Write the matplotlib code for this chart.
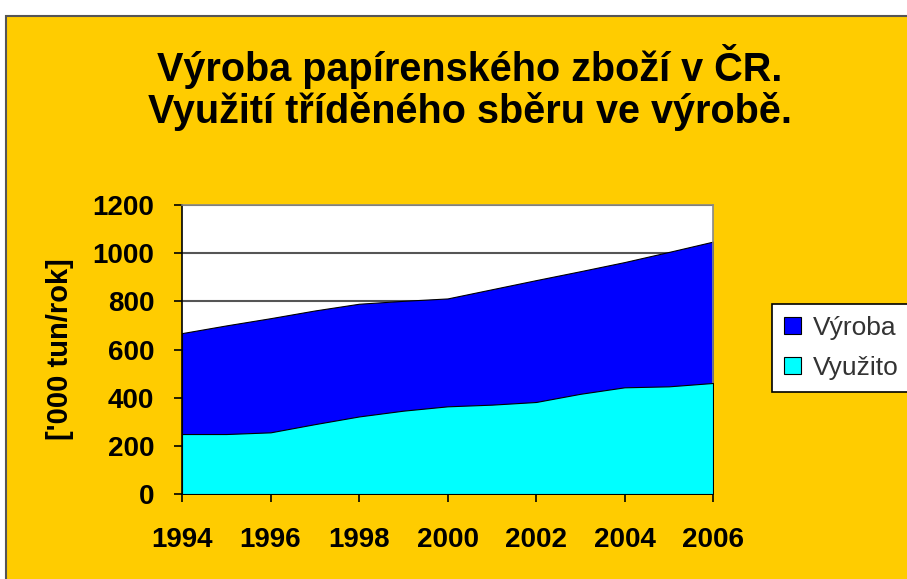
import matplotlib.pyplot as plt
from matplotlib.patches import Rectangle

# data ('000 t per year)
years = [1994, 1995, 1996, 1997, 1998, 1999, 2000, 2001, 2002, 2003, 2004, 2005, 2006]
vyroba = [668, 700, 730, 762, 790, 802, 812, 850, 888, 925, 963, 1005, 1048]
vyuzito = [249, 249, 256, 290, 322, 346, 364, 371, 382, 416, 443, 447, 461]
yticks = [0, 200, 400, 600, 800, 1000, 1200]
xticks = [1994, 1996, 1998, 2000, 2002, 2004, 2006]

yellow = "#FFCC00"
plt.rcParams['font.family'] = ['Liberation Sans', 'DejaVu Sans']

fig = plt.figure(figsize=(9.07, 5.79), dpi=100, facecolor="white")
# yellow chart-area background with a thin grey frame
fig.patches.append(Rectangle((6 / 907, -0.01), 1.0, 1 - 16 / 579 + 0.01,
                             transform=fig.transFigure, facecolor=yellow,
                             edgecolor="#555555", linewidth=1.5, zorder=-5))

ax = fig.add_axes([182 / 907, 1 - 494 / 579, 531 / 907, 289 / 579])
ax.set_facecolor("white")

for y in yticks[1:]:
    ax.axhline(y, color="#555555", linewidth=1.5, zorder=1)

ax.fill_between(years, 0, vyroba, color="#0000FF", zorder=2, label="Výroba",
                edgecolor="black", linewidth=0.8)
ax.fill_between(years, 0, vyuzito, color="#00FFFF", zorder=3, label="Využito",
                edgecolor="black", linewidth=0.8)

ax.set_xlim(1994, 2006)
ax.set_ylim(0, 1200)
ax.set_xticks(xticks)
ax.set_yticks(yticks)
ax.tick_params(axis="both", direction="out", length=6, width=1.2,
               labelsize=20)
ax.tick_params(axis="y", pad=14)
ax.tick_params(axis="x", pad=18)
for lab in ax.get_xticklabels() + ax.get_yticklabels():
    lab.set_fontweight("bold")

for s in ["top", "right"]:
    ax.spines[s].set_color("#888888")
    ax.spines[s].set_linewidth(1.2)
for s in ["left", "bottom"]:
    ax.spines[s].set_color("black")
    ax.spines[s].set_linewidth(1.2)

ax.set_ylabel("['000 tun/rok]", fontsize=21, fontweight="bold", labelpad=13)

fig.text(0.518, 0.885, "Výroba papírenského zboží v ČR.", ha="center", va="center",
         fontsize=28.5, fontweight="bold")
fig.text(0.518, 0.808, "Využití tříděného sběru ve výrobě.", ha="center", va="center",
         fontsize=28.5, fontweight="bold")

# legend box runs past the right edge of the picture, as in the original
leg = ax.legend(loc="upper left", bbox_to_anchor=(772 / 907, 1 - 304 / 579, 0.2, 0),
                bbox_transform=fig.transFigure, mode="expand", fontsize=19,
                frameon=True, fancybox=False, edgecolor="black", framealpha=1,
                handlelength=0.65, handleheight=0.65, handletextpad=0.45,
                borderpad=0.45, labelspacing=0.6, borderaxespad=0)
leg.get_frame().set_linewidth(1.2)
for t in leg.get_texts():
    t.set_color("#333333")

fig.savefig("out.png", dpi=100, facecolor=fig.get_facecolor())
